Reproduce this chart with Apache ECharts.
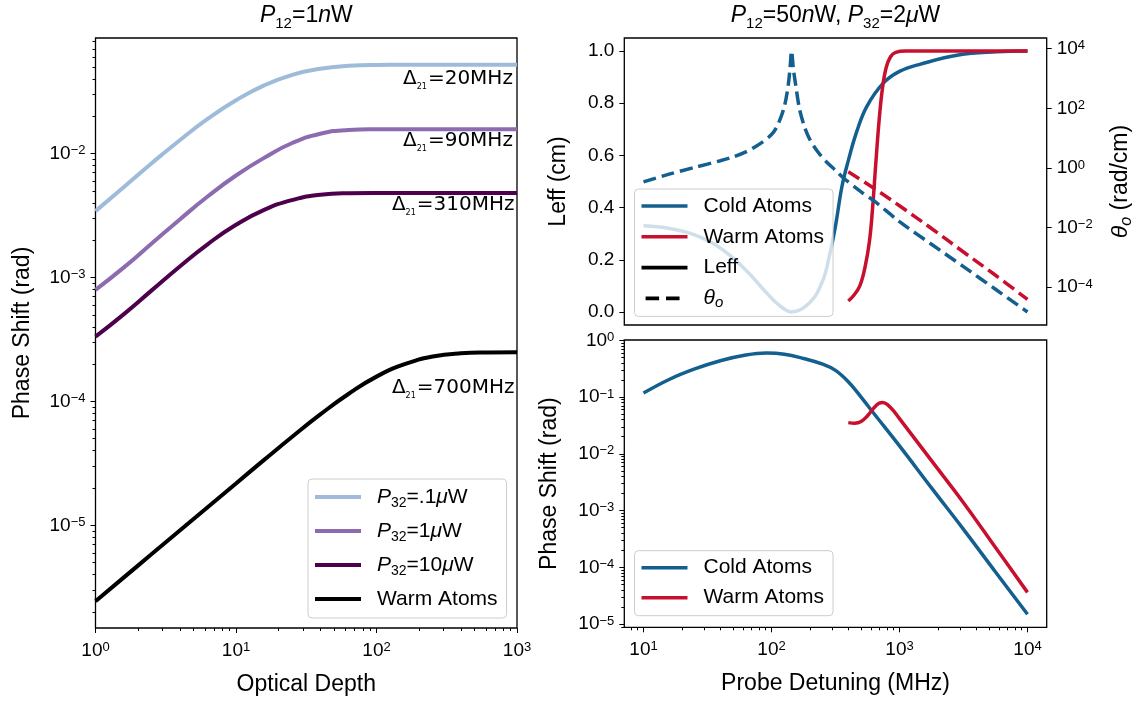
<!DOCTYPE html>
<html>
<head>
<meta charset="utf-8">
<script src="https://cdn.jsdelivr.net/npm/echarts@6/dist/echarts.min.js"></script>
<style>
  html, body { margin: 0; padding: 0; background: #fff; }
  #chart { width: 1137px; height: 704px; }
</style>
</head>
<body>
<div id="chart"></div>
<script>
// ---- Left panel: phase shift vs optical depth (P12 = 1 nW) ----
const opticalDepth   = [1, 1.585, 2.512, 3.981, 6.31, 10, 15.85, 25.12, 39.81, 63.1, 100, 158.5, 251.2, 398.1, 631, 1000];
const shiftLowP32    = [0.00343, 0.00535, 0.00836, 0.0128, 0.0191, 0.0269, 0.0355, 0.04315, 0.04842, 0.05105, 0.05188, 0.0520, 0.0520, 0.0520, 0.0520, 0.0520];
const shiftMidP32    = [0.000794, 0.00120, 0.00188, 0.00294, 0.00452, 0.00665, 0.009226, 0.01216, 0.01445, 0.01549, 0.01570, 0.01574, 0.01574, 0.01574, 0.01574, 0.01574];
const shiftHighP32   = [0.000333, 0.000504, 0.000787, 0.001227, 0.001862, 0.00266, 0.003508, 0.004217, 0.004656, 0.004786, 0.004808, 0.00481, 0.00481, 0.00481, 0.00481, 0.00481];
const shiftWarmDepth = [2.443e-6, 3.784e-6, 5.861e-6, 9.078e-6, 1.406e-5, 2.178e-5, 3.373e-5, 5.188e-5, 7.852e-5, 1.148e-4, 1.585e-4, 1.995e-4, 2.301e-4, 2.443e-4, 2.483e-4, 2.495e-4];

// Detuning annotations for the left panel
const detuningNotes   = ['20MHz', '90MHz', '310MHz', '700MHz'];
const detuningNoteOD  = [935, 935, 960, 960];
const detuningNoteVal = [0.0398, 0.01262, 0.003864, 0.0001276];

// ---- Top right: effective length and rotation per length vs probe detuning ----
const leffColdMHz = [10, 15.85, 25.12, 39.81, 63.1, 91.2, 112.2, 143.5, 199.5, 251.2, 281.8, 316.2, 354.8, 398.1, 462.4, 554.6, 746.4, 1000, 1462, 2884, 5754, 10000];
const leffCold    = [0.33, 0.32, 0.295, 0.245, 0.16, 0.074, 0.03, 0.0, 0.036, 0.12, 0.21, 0.33, 0.48, 0.58, 0.69, 0.787, 0.877, 0.922, 0.95, 0.985, 0.997, 1.0];
const leffWarmMHz = [398.1, 436.5, 489.8, 537.0, 582.1, 616.6, 653.1, 691.8, 732.8, 785.2, 851.1, 933.3, 1122, 3162, 10000];
const leffWarm    = [0.042, 0.062, 0.10, 0.17, 0.27, 0.40, 0.57, 0.73, 0.85, 0.935, 0.978, 0.995, 1.0, 1.0, 1.0];
const thetaColdMHz = [10, 15.85, 25.12, 39.81, 50.12, 63.1, 79.43, 100, 112.2, 125.9, 134.9, 139.6, 143.5, 147.9, 154.9, 166, 182, 199.5, 229.1, 269.2, 316.2, 363.1, 501.2, 631, 1000, 1778, 3162, 5623, 10000];
const thetaCold    = [0.339, 0.617, 1.047, 1.738, 2.344, 3.467, 6.026, 13.18, 28.18, 112.2, 562.3, 2239, 8318, 2239, 562.3, 89.1, 22.39, 8.913, 3.548, 1.585, 0.832, 0.468, 0.158, 0.0794, 0.01585, 0.002754, 0.0004898, 0.0000851, 0.00001479];
const thetaWarmMHz = [398.1, 631, 1000, 1778, 3162, 5623, 10000];
const thetaWarm    = [0.741, 0.209, 0.0537, 0.00933, 0.001514, 0.0002512, 0.0000389];

// ---- Bottom right: phase shift vs probe detuning ----
const shiftColdMHz = [10, 15.85, 25.12, 39.81, 63.1, 91.2, 125.9, 177.8, 251.2, 316.2, 398.1, 501.2, 631, 1000, 1778, 3162, 5623, 10000];
const shiftCold    = [0.1175, 0.204, 0.3126, 0.4365, 0.5495, 0.5957, 0.5689, 0.4786, 0.3802, 0.2951, 0.1862, 0.1, 0.0513, 0.0138, 0.002512, 0.0004677, 0.00008318, 0.00001496];
const shiftWarmMHz = [398.1, 446.7, 501.2, 562.3, 631, 691.8, 741.3, 812.8, 912, 1000, 1778, 3162, 5623, 10000];
const shiftWarm    = [0.03548, 0.03467, 0.03715, 0.04677, 0.06457, 0.0776, 0.0804, 0.0724, 0.05495, 0.04169, 0.007586, 0.00138, 0.0002239, 0.00003631];

// ---- Tick positions ----
const depthTicks      = [1, 10, 100, 1000];
const depthShiftTicks = [1e-5, 1e-4, 1e-3, 1e-2];
const detuningTicks   = [10, 100, 1000, 10000];
const leffTicks       = [0, 0.2, 0.4, 0.6, 0.8, 1.0];
const thetaTicks      = [1e-4, 1e-2, 1, 1e2, 1e4];
const probeShiftTicks = [1e-5, 1e-4, 1e-3, 1e-2, 1e-1, 1];

// ---- Colours ----
const C_LOW = '#9ebcda', C_MID = '#8c6bb1', C_HIGH = '#4d004b', C_BLACK = '#000000';
const C_COLD = '#135f8f', C_WARM = '#c8102e';

const FONT = "'Liberation Sans', Arial, sans-serif";
const DEJAVU = "'DejaVu Sans', sans-serif";
const lg = Math.log10;

const logPairs = (xs, ys) => xs.map((x, i) => [lg(x), lg(ys[i])]);
const linPairs = (xs, ys) => xs.map((x, i) => [lg(x), ys[i]]);

// matplotlib-style autoscale: 5% margin on each side of the (log) data range
function padded(arrays) {
  const all = [].concat(...arrays);
  const lo = Math.min(...all), hi = Math.max(...all), m = 0.05 * (hi - lo);
  return [lo - m, hi + m];
}
// minor ticks at 2..9 x 10^n inside (lo, hi), in log units
function minorTicks(lo, hi) {
  const out = [];
  for (let n = Math.floor(lo) - 1; n <= Math.ceil(hi); n++) {
    for (let k = 2; k <= 9; k++) {
      const v = n + lg(k);
      if (v > lo && v < hi) out.push(v);
    }
  }
  return out;
}

const leftX = [0, 3];
const leftY = padded([shiftLowP32, shiftMidP32, shiftHighP32, shiftWarmDepth].map(a => a.map(lg)));
const rightX = padded([[10, 10000].map(lg)]);
const leffY = padded([[0, 1]]);
const thetaY = padded([thetaCold.map(lg), thetaWarm.map(lg)]);
const probeY = padded([shiftCold.map(lg), shiftWarm.map(lg)]);

const tickRich = {
  b: { fontSize: 19, fontFamily: FONT, color: '#000', lineHeight: 19, padding: [8, 0, 0, 0], verticalAlign: 'bottom' },
  e: { fontSize: 13, fontFamily: FONT, color: '#000', lineHeight: 13, verticalAlign: 'top' }
};
function expLabel(v) {
  const e = Math.round(v);
  return '{b|10}{e|' + (e < 0 ? '\u2212' + (-e) : String(e)) + '}';
}

function majorAxis(gridIndex, position, range, ticks, extra) {
  return Object.assign({
    type: 'value', gridIndex, position, min: range[0], max: range[1],
    axisLine: { show: false, onZero: false },
    splitLine: { show: false },
    axisTick: { show: true, length: 5, customValues: ticks, lineStyle: { color: '#000', width: 1 } },
    axisLabel: { show: true, customValues: ticks, formatter: expLabel, rich: tickRich, margin: 10, color: '#000' }
  }, extra || {});
}
function minorAxis(gridIndex, position, range) {
  return {
    type: 'value', gridIndex, position, min: range[0], max: range[1],
    axisLine: { show: false, onZero: false },
    splitLine: { show: false },
    axisTick: { show: true, length: 3, customValues: minorTicks(range[0], range[1]), lineStyle: { color: '#000', width: 1 } },
    axisLabel: { show: false }
  };
}
const nameStyle = { fontSize: 23, fontFamily: FONT, color: '#000' };

function line(name, xi, yi, data, color, width, dash, smooth) {
  return {
    type: 'line', name, xAxisIndex: xi, yAxisIndex: yi, data, color,
    symbol: 'none', showSymbol: false, smooth: smooth || 0.3, silent: true, z: 3,
    lineStyle: { color, width, type: dash || 'solid', cap: 'butt' }
  };
}

const legendText = {
  depthP01: '{i|P}{s|32}=.1{i|\u03bc}W',
  depthP1: '{i|P}{s|32}=1{i|\u03bc}W',
  depthP10: '{i|P}{s|32}=10{i|\u03bc}W',
  depthWarm: 'Warm Atoms',
  leffCold: 'Cold Atoms',
  leffWarm: 'Warm Atoms',
  keyLeff: 'Leff',
  keyTheta: '{i|\u03b8}{o|o}',
  shiftCold: 'Cold Atoms',
  shiftWarm: 'Warm Atoms'
};
const legendRich = {
  i: { fontStyle: 'italic', fontSize: 21, fontFamily: FONT, color: '#000' },
  s: { fontSize: 14, fontFamily: FONT, color: '#000', lineHeight: 14, verticalAlign: 'bottom' },
  o: { fontStyle: 'italic', fontSize: 15, fontFamily: FONT, color: '#000', lineHeight: 15, verticalAlign: 'bottom' }
};
const DASH_ICON = 'path://M0 0L0 4L0 0Z M2 0H17V4H2Z M24.7 0H39.7V4H24.7Z M46 0L46 4L46 0Z';

function legendBox(names, icons, left, top, lineHeight, gap, iconH) {
  return {
    data: names.map((n, i) => ({ name: n, icon: icons[i] })),
    orient: 'vertical', left, top,
    itemWidth: 46, itemHeight: iconH, itemGap: gap,
    padding: [5, 9, 6, 7],
    backgroundColor: 'rgba(255,255,255,0.8)',
    borderColor: '#cccccc', borderWidth: 1, borderRadius: 4,
    selectedMode: false,
    formatter: n => legendText[n],
    textStyle: { fontFamily: FONT, fontSize: 21, color: '#000', lineHeight, padding: [0, 0, 0, 11], rich: legendRich }
  };
}

const titleRich = {
  i: { fontStyle: 'italic', fontSize: 23, fontFamily: FONT },
  s: { fontSize: 15, lineHeight: 15, verticalAlign: 'bottom', fontFamily: FONT }
};

const option = {
  animation: false,
  textStyle: { fontFamily: FONT },
  grid: [
    { left: 95.5, top: 38, width: 421.5, height: 590, show: true, borderColor: '#000', borderWidth: 1.3, backgroundColor: 'transparent' },
    { left: 624.3, top: 38, width: 422.4, height: 287, show: true, borderColor: '#000', borderWidth: 1.3, backgroundColor: 'transparent' },
    { left: 624.3, top: 340, width: 422.4, height: 287.3, show: true, borderColor: '#000', borderWidth: 1.3, backgroundColor: 'transparent' }
  ],
  xAxis: [
    majorAxis(0, 'bottom', leftX, depthTicks.map(lg), {
      name: 'Optical Depth', nameLocation: 'middle', nameGap: 45, nameTextStyle: nameStyle,
      axisLabel: { show: true, customValues: depthTicks.map(lg), formatter: expLabel, rich: tickRich, margin: 13, color: '#000' }
    }),
    minorAxis(0, 'bottom', leftX),
    { type: 'value', gridIndex: 1, position: 'bottom', min: rightX[0], max: rightX[1], show: false, axisLine: { onZero: false }, splitLine: { show: false } },
    majorAxis(2, 'bottom', rightX, detuningTicks.map(lg), {
      name: 'Probe Detuning (MHz)', nameLocation: 'middle', nameGap: 45, nameTextStyle: nameStyle,
      axisLabel: { show: true, customValues: detuningTicks.map(lg), formatter: expLabel, rich: tickRich, margin: 13, color: '#000' }
    }),
    minorAxis(2, 'bottom', rightX)
  ],
  yAxis: [
    majorAxis(0, 'left', leftY, depthShiftTicks.map(lg), {
      name: 'Phase Shift (rad)', nameLocation: 'middle', nameGap: 61, nameRotate: 90, nameTextStyle: nameStyle
    }),
    minorAxis(0, 'left', leftY),
    {
      type: 'value', gridIndex: 1, position: 'left', min: leffY[0], max: leffY[1],
      axisLine: { show: false, onZero: false }, splitLine: { show: false },
      axisTick: { show: true, length: 5, customValues: leffTicks, lineStyle: { color: '#000', width: 1 } },
      axisLabel: { show: true, customValues: leffTicks, formatter: v => v.toFixed(1), fontSize: 19, fontFamily: FONT, color: '#000', margin: 10 },
      name: 'Leff (cm)', nameLocation: 'middle', nameGap: 54, nameRotate: 90, nameTextStyle: nameStyle
    },
    majorAxis(1, 'right', thetaY, thetaTicks.map(lg), {
      name: '{i|\u03b8}{o|o} (rad/cm)', nameLocation: 'middle', nameGap: 60, nameRotate: 90,
      nameTextStyle: Object.assign({}, nameStyle, {
        lineHeight: 28,
        rich: {
          i: { fontStyle: 'italic', fontSize: 23, fontFamily: FONT, color: '#000' },
          o: { fontStyle: 'italic', fontSize: 16, lineHeight: 16, verticalAlign: 'bottom', fontFamily: FONT, color: '#000' }
        }
      })
    }),
    majorAxis(2, 'left', probeY, probeShiftTicks.map(lg), {
      name: 'Phase Shift (rad)', nameLocation: 'middle', nameGap: 63, nameRotate: 90, nameTextStyle: nameStyle
    }),
    minorAxis(2, 'left', probeY)
  ],
  legend: [
    legendBox(['depthP01', 'depthP1', 'depthP10', 'depthWarm'], ['rect', 'rect', 'rect', 'rect'], 308, 479, 26, 8, 4),
    legendBox(['leffCold', 'leffWarm', 'keyLeff', 'keyTheta'], ['rect', 'rect', 'rect', DASH_ICON], 634.5, 189, 24, 6.8, 3.6),
    legendBox(['shiftCold', 'shiftWarm'], ['rect', 'rect'], 634.5, 550.7, 24, 6, 3.6)
  ],
  graphic: [
    {
      type: 'text', x: 306.3, y: 16, silent: true,
      style: { text: '{i|P}{s|12}=1{i|n}W', rich: titleRich, fontSize: 23, fontFamily: FONT, lineHeight: 30, fill: '#000', align: 'center', verticalAlign: 'middle' }
    },
    {
      type: 'text', x: 835.5, y: 16, silent: true,
      style: { text: '{i|P}{s|12}=50{i|n}W, {i|P}{s|32}=2{i|\u03bc}W', rich: titleRich, fontSize: 23, fontFamily: FONT, lineHeight: 30, fill: '#000', align: 'center', verticalAlign: 'middle' }
    }
  ],
  series: [
    line('depthP01', 0, 0, logPairs(opticalDepth, shiftLowP32), C_LOW, 4, null, 0.5),
    line('depthP1', 0, 0, logPairs(opticalDepth, shiftMidP32), C_MID, 4, null, 0.5),
    line('depthP10', 0, 0, logPairs(opticalDepth, shiftHighP32), C_HIGH, 4, null, 0.5),
    line('depthWarm', 0, 0, logPairs(opticalDepth, shiftWarmDepth), C_BLACK, 4, null, 0.5),
    {
      type: 'scatter', xAxisIndex: 0, yAxisIndex: 0, symbolSize: 0, silent: true, z: 4,
      itemStyle: { color: '#000', opacity: 0 },
      data: detuningNotes.map((t, i) => [lg(detuningNoteOD[i]), lg(detuningNoteVal[i]), t]),
      label: {
        show: true, position: [0, 0], align: 'right', verticalAlign: 'middle',
        formatter: p => '{d|\u0394}{s|21}{t|=' + p.data[2] + '}',
        fontFamily: DEJAVU, fontSize: 20, color: '#000', lineHeight: 24,
        textBorderWidth: 0, textBorderColor: 'transparent', opacity: 1,
        rich: {
          d: { fontFamily: DEJAVU, fontSize: 20, color: '#000', textBorderWidth: 0 },
          t: { fontFamily: DEJAVU, fontSize: 20, color: '#000', textBorderWidth: 0 },
          s: { fontFamily: DEJAVU, fontSize: 8, lineHeight: 8, color: '#000', verticalAlign: 'bottom', padding: [0, 1, 0, 0], textBorderWidth: 0 }
        }
      }
    },
    line('leffCold', 2, 2, linPairs(leffColdMHz, leffCold), C_COLD, 3.5, null, 0.4),
    line('leffWarm', 2, 2, linPairs(leffWarmMHz, leffWarm), C_WARM, 3.5, null, 0.4),
    line('thetaCold', 2, 3, logPairs(thetaColdMHz, thetaCold), C_COLD, 3.5, [13, 6], 0.3),
    line('thetaWarm', 2, 3, logPairs(thetaWarmMHz, thetaWarm), C_WARM, 3.5, [13, 6], 0.4),
    line('keyLeff', 2, 2, [], C_BLACK, 3.5),
    line('keyTheta', 2, 3, [], C_BLACK, 3.5, [13, 6]),
    line('shiftCold', 3, 4, logPairs(shiftColdMHz, shiftCold), C_COLD, 3.5, null, 0.4),
    line('shiftWarm', 3, 4, logPairs(shiftWarmMHz, shiftWarm), C_WARM, 3.5, null, 0.4)
  ]
};

const chart = echarts.init(document.getElementById('chart'), null, { renderer: 'canvas' });
chart.setOption(option);
</script>
</body>
</html>
